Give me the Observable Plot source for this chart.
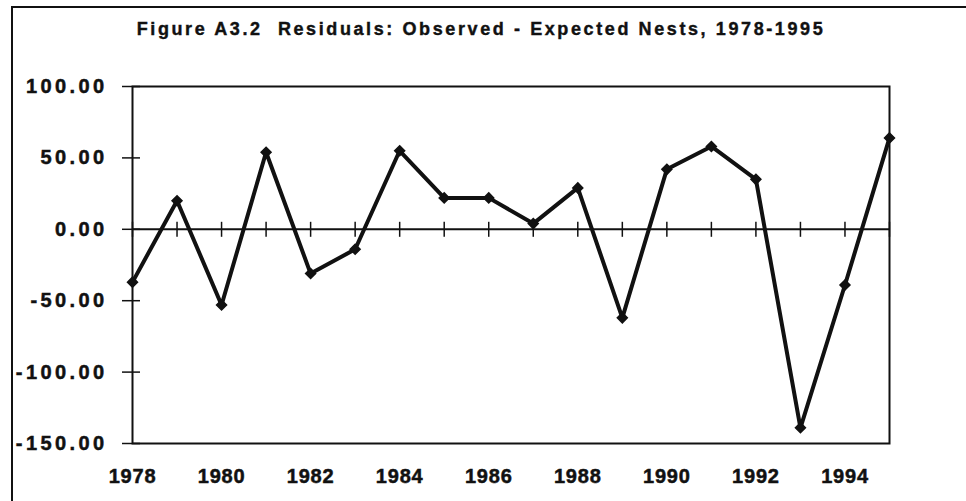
<!DOCTYPE html>
<html>
<head>
<meta charset="utf-8">
<script src="https://cdn.jsdelivr.net/npm/d3@7"></script>
<script src="https://cdn.jsdelivr.net/npm/@observablehq/plot@0.6"></script>
<style>
  html, body { margin: 0; padding: 0; background: #fff; }
  #wrap { position: relative; width: 966px; height: 501px; overflow: hidden; }
  #box { position: absolute; left: 11px; top: 6px; width: 970px; height: 510px;
         border-top: 2px solid #111; border-left: 2px solid #111; box-sizing: border-box; }
  #chart { position: absolute; left: 0; top: 0; }
  g[aria-label="y-axis tick label"] text { letter-spacing: 3.4px; stroke: #111; stroke-width: 0.5px; }
  g[aria-label="x-axis tick label"] text { letter-spacing: 0.8px; stroke: #111; stroke-width: 0.5px; }
</style>
</head>
<body>
<div id="wrap"><div id="box"></div><div id="chart"></div></div>
<script>
const titleText = "Figure A3.2  Residuals: Observed - Expected Nests, 1978-1995";
const years = [1978, 1979, 1980, 1981, 1982, 1983, 1984, 1985, 1986, 1987, 1988, 1989, 1990, 1991, 1992, 1993, 1994, 1995];
const residuals = [-37, 20, -53, 54, -31, -14, 55, 22, 22, 4, 29, -62, 42, 58, 35, -139, -39, 64];
const yTicks = [100, 50, 0, -50, -100, -150];
const xTickLabels = [1978, 1980, 1982, 1984, 1986, 1988, 1990, 1992, 1994];

const data = years.map((y, i) => ({year: y, value: residuals[i]}));

const chart = Plot.plot({
  width: 966,
  height: 501,
  marginLeft: 132,
  marginRight: 77,
  marginTop: 86,
  marginBottom: 58,
  style: {fontFamily: "'Liberation Sans', Arial, sans-serif", fontWeight: "bold", fontSize: "20px", color: "#111", background: "transparent"},
  x: {domain: [1978, 1995], axis: null},
  y: {domain: [-150, 100], axis: null},
  marks: [
    Plot.frame({stroke: "#111", strokeWidth: 2}),
    Plot.ruleY([0], {stroke: "#111", strokeWidth: 2}),
    Plot.ruleX(years, {x: d => d, y1: 0, y2: 0, insetTop: -7, insetBottom: -8, stroke: "#111", strokeWidth: 1.5}),
    Plot.ruleY(yTicks, {y: d => d, x1: 1978, x2: 1978, insetLeft: -10, insetRight: -8, stroke: "#111", strokeWidth: 1.5}),
    Plot.axisY({ticks: yTicks, label: null, tickSize: 0, tickPadding: 25, tickFormat: d => d.toFixed(2), fontSize: 20, fontWeight: "bold", fill: "#111"}),
    Plot.axisX({ticks: xTickLabels, label: null, tickSize: 0, tickPadding: 25, tickFormat: d => String(d), fontSize: 20, fontWeight: "bold", fill: "#111"}),
    Plot.line(data, {x: "year", y: "value", stroke: "#111", strokeWidth: 4, strokeLinejoin: "miter"}),
    Plot.dot(data, {x: "year", y: "value", symbol: "diamond2", r: 4.5, fill: "#111", stroke: "#111"}),
    Plot.text([titleText], {text: d => d, frameAnchor: "top", dx: -30, dy: -57, lineAnchor: "middle", fontSize: 18, fontWeight: "bold", fill: "#111"})
  ]
});
d3.select(chart).selectAll("text").filter(function() { return this.textContent === titleText; })
  .style("letter-spacing", "2.6px").style("white-space", "pre")
  .style("stroke", "#111").style("stroke-width", "0.4px");
document.getElementById("chart").appendChild(chart);
</script>
</body>
</html>
